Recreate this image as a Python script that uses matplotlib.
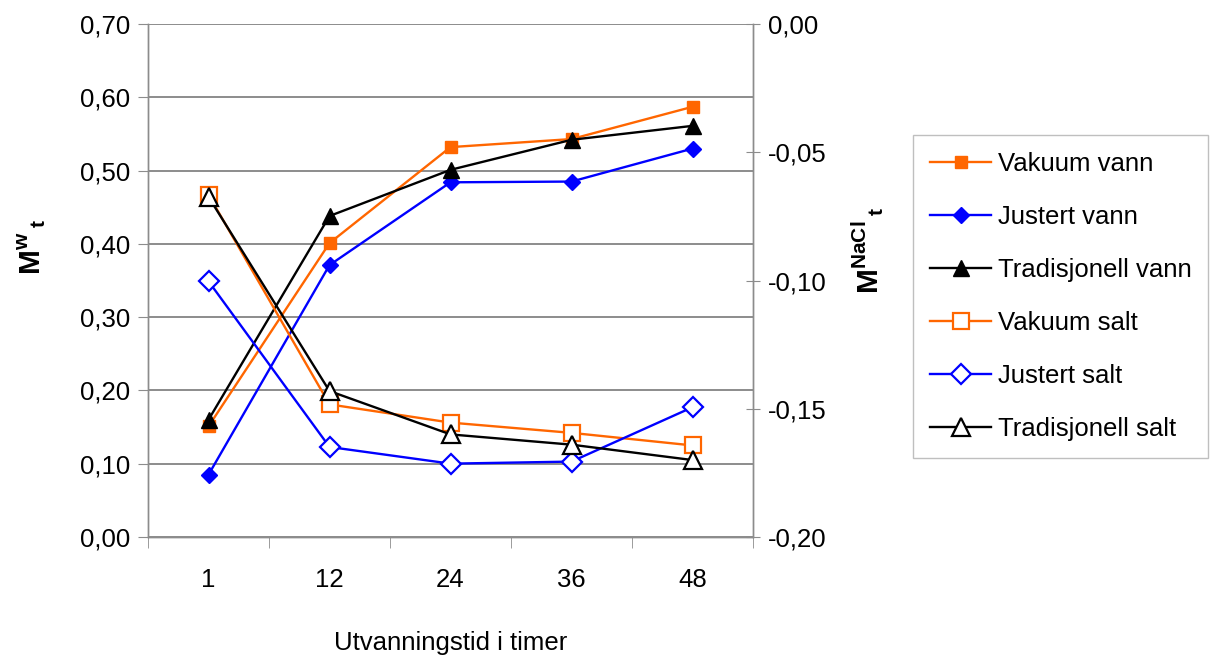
import matplotlib
matplotlib.use("Agg")
import matplotlib.pyplot as plt
from matplotlib.ticker import FuncFormatter, FixedLocator
import numpy as np

plt.rcParams['font.family'] = ['Liberation Sans', 'DejaVu Sans']
plt.rcParams['mathtext.fontset'] = 'custom'
plt.rcParams['mathtext.bf'] = 'Liberation Sans:bold'
plt.rcParams['mathtext.rm'] = 'Liberation Sans'

# data
hours = ['1', '12', '24', '36', '48']
vakuum_vann = [0.151, 0.401, 0.532, 0.543, 0.587]
justert_vann = [0.085, 0.371, 0.484, 0.485, 0.530]
trad_vann = [0.160, 0.438, 0.501, 0.542, 0.561]
vakuum_salt = [-0.0666, -0.1483, -0.1554, -0.1594, -0.1643]
justert_salt = [-0.1003, -0.1649, -0.1714, -0.1706, -0.1494]
trad_salt = [-0.0674, -0.1431, -0.1600, -0.1640, -0.1700]

orange = '#FF6600'
blue = '#0000FF'
grid_c = '#8c8c8c'
fs = 18.5

fig = plt.figure(figsize=(12.12, 6.58), dpi=100)
ax = fig.add_axes([148/1212, 1-537/658, 605/1212, 513/658])
ax2 = ax.twinx()

x = np.arange(len(hours))
lw = 1.7
l1, = ax.plot(x, vakuum_vann, color=orange, lw=lw, marker='s', ms=9, mfc=orange, mec=orange, label='Vakuum vann')
l2, = ax.plot(x, justert_vann, color=blue, lw=lw, marker='D', ms=8, mfc=blue, mec=blue, label='Justert vann')
l3, = ax.plot(x, trad_vann, color='black', lw=lw, marker='^', ms=11, mfc='black', mec='black', label='Tradisjonell vann')
l4, = ax2.plot(x, vakuum_salt, color=orange, lw=lw, marker='s', ms=12, mfc='white', mec=orange, mew=1.6, label='Vakuum salt')
l5, = ax2.plot(x, justert_salt, color=blue, lw=lw, marker='D', ms=10, mfc='white', mec=blue, mew=1.6, label='Justert salt')
l6, = ax2.plot(x, trad_salt, color='black', lw=lw, marker='^', ms=13, mfc='white', mec='black', mew=1.6, label='Tradisjonell salt')

ax.set_xlim(-0.5, 4.5)
ax.set_ylim(0, 0.70)
ax2.set_ylim(-0.20, 0.0)
ax.set_yticks(np.arange(0, 0.71, 0.1))
ax2.set_yticks(np.arange(-0.20, 0.001, 0.05))
comma2 = FuncFormatter(lambda v, p: ('%.2f' % v).replace('.', ','))
ax.yaxis.set_major_formatter(comma2)
ax2.yaxis.set_major_formatter(FuncFormatter(lambda v, p: ('%.2f' % (0.0 if abs(v) < 1e-9 else v)).replace('.', ',')))

ax.set_xticks(x)
ax.set_xticklabels(hours)
ax.xaxis.set_minor_locator(FixedLocator(np.arange(-0.5, 4.6, 1)))
ax.tick_params(axis='x', which='major', length=0, labelsize=fs, pad=22)
ax.tick_params(axis='x', which='minor', length=8, color=grid_c, direction='out')
ax.tick_params(axis='y', length=7, color=grid_c, labelsize=fs, pad=6)
ax2.tick_params(axis='y', length=10, color=grid_c, labelsize=fs, direction='inout', pad=6)

ax.grid(axis='y', color=grid_c, lw=1.4)
ax.set_axisbelow(True)
for a in (ax, ax2):
    for s in a.spines.values():
        s.set_color(grid_c)
        s.set_linewidth(1.0)
ax.spines['top'].set_visible(False)
ax2.spines['top'].set_visible(False)

fig.text(0.026, 1-247/658, r'$\mathbf{M}^{\mathbf{w}}\,{}_{\mathbf{t}}$', rotation=90, fontsize=fs+3,
         ha='center', va='center')
fig.text(0.716, 1-250/658, r'$\mathbf{M}^{\mathbf{NaCl}}\,{}_{\mathbf{t}}$', rotation=90, fontsize=fs+3,
         ha='center', va='center')
fig.text((148+753)/2/1212, 1-643/658, 'Utvanningstid i timer', fontsize=fs, ha='center', va='center')

leg = fig.legend(handles=[l1, l2, l3, l4, l5, l6], loc='upper left',
                 bbox_to_anchor=(913/1212, 1-135/658), fontsize=fs, frameon=True,
                 fancybox=False, edgecolor='#b0b0b0', handlelength=2.4, handletextpad=0.25,
                 labelspacing=1.13, borderpad=0.65, borderaxespad=0)
leg.get_frame().set_linewidth(1.0)

fig.savefig('out.png', dpi=100)
